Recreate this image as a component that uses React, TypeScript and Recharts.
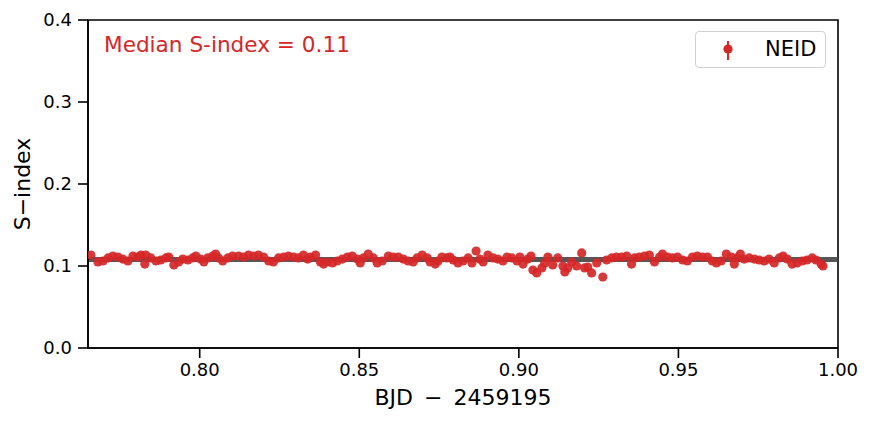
import React from "react";
import {
  ScatterChart,
  Scatter,
  XAxis,
  YAxis,
  ReferenceLine,
  ReferenceArea,
} from "recharts";

const BJD = [
  0.7659, 0.7681, 0.7697, 0.7713, 0.7728, 0.7744, 0.7759, 0.7775, 0.7791, 0.7806,
  0.7816, 0.7828, 0.7831, 0.7847, 0.7863, 0.7878, 0.7894, 0.7903, 0.7919, 0.7934,
  0.7947, 0.7963, 0.7978, 0.7988, 0.8003, 0.8013, 0.8025, 0.8041, 0.805, 0.8059,
  0.8072, 0.8088, 0.8103,
  0.8122, 0.8138, 0.8153, 0.8169, 0.8184, 0.82, 0.8216, 0.8231, 0.8247, 0.8263,
  0.8278, 0.8294, 0.8309, 0.8325, 0.8338, 0.8347, 0.8363, 0.8378, 0.8388, 0.84,
  0.8416, 0.8431, 0.8447, 0.8463, 0.8478, 0.8494, 0.8503, 0.8513, 0.8528, 0.8544,
  0.8556, 0.8572,
  0.8591, 0.8606, 0.8622, 0.8638, 0.8653, 0.8669, 0.8681, 0.8697, 0.8713, 0.8722,
  0.8738, 0.8747, 0.8759, 0.8775, 0.8784, 0.8794, 0.8809, 0.8825, 0.8841, 0.8853,
  0.8866, 0.8878, 0.8888, 0.8903, 0.8919, 0.8934, 0.895, 0.8963, 0.8978, 0.8994,
  0.9003, 0.9013, 0.9028, 0.9038, 0.9044, 0.9056,
  0.9072, 0.9081, 0.9091, 0.9106, 0.9122, 0.9138, 0.9144, 0.9153, 0.9166, 0.9181,
  0.9197, 0.9206, 0.9216, 0.9228, 0.9244, 0.9263, 0.9275, 0.9291, 0.9306, 0.9322,
  0.9338, 0.9353, 0.9363, 0.9378, 0.9394, 0.9409, 0.9425, 0.9441, 0.945, 0.9466,
  0.9481, 0.9497, 0.9513,
  0.9528, 0.9544, 0.9559, 0.9575, 0.9591, 0.9606, 0.9619, 0.9634, 0.965, 0.9666,
  0.9675, 0.9684, 0.9694, 0.9706, 0.9722, 0.9738, 0.9753, 0.9769, 0.9784, 0.98,
  0.9816, 0.9828, 0.9841, 0.9856, 0.9872, 0.9888, 0.9903, 0.9919, 0.9931, 0.9947,
  0.9953,
];

const SINDEX = [
  0.1134, 0.1049, 0.1061, 0.1098, 0.1122, 0.111, 0.1085, 0.1061, 0.1122, 0.111,
  0.1134, 0.1024, 0.1134, 0.1098, 0.1061, 0.1073, 0.1098, 0.111, 0.1012, 0.1049,
  0.1085, 0.1073, 0.1098, 0.1122, 0.1085, 0.1049, 0.1098, 0.1122, 0.1146, 0.1098,
  0.1061, 0.1098, 0.1122,
  0.1122, 0.111, 0.1134, 0.1122, 0.1134, 0.111, 0.1061, 0.1049, 0.1098, 0.111,
  0.1122, 0.111, 0.1098, 0.1134, 0.1085, 0.111, 0.1134, 0.1049, 0.1024, 0.1049,
  0.1037, 0.1061, 0.1085, 0.111, 0.1122, 0.1085, 0.1037, 0.1098, 0.1146, 0.1098,
  0.1037, 0.1061,
  0.1122, 0.111, 0.111, 0.1085, 0.1061, 0.1049, 0.1098, 0.1134, 0.1098, 0.1049,
  0.1024, 0.1061, 0.111, 0.1098, 0.111, 0.1073, 0.1037, 0.1061, 0.1098, 0.1037,
  0.1183, 0.1085, 0.1049, 0.1134, 0.1098, 0.1085, 0.1061, 0.111, 0.1098, 0.1061,
  0.111, 0.1024, 0.1085, 0.1122, 0.0951, 0.0915,
  0.0976, 0.1037, 0.111, 0.1012, 0.1098, 0.1, 0.0927, 0.0976, 0.1049, 0.1,
  0.1159, 0.0976, 0.0988, 0.0915, 0.1037, 0.0866, 0.1073, 0.1098, 0.111, 0.111,
  0.1122, 0.1024, 0.1098, 0.111, 0.1122, 0.1134, 0.1049, 0.111, 0.1146, 0.111,
  0.1098, 0.111, 0.1073,
  0.1061, 0.111, 0.1122, 0.111, 0.111, 0.1061, 0.1037, 0.1061, 0.1146, 0.111,
  0.1024, 0.1098, 0.1146, 0.1085, 0.1098, 0.1085, 0.1073, 0.1061, 0.1085, 0.1037,
  0.1098, 0.1122, 0.1085, 0.1024, 0.1037, 0.1061, 0.1073, 0.1098, 0.1073, 0.1024,
  0.1,
];

const X_TICKS = [0.8, 0.85, 0.9, 0.95, 1.0];
const Y_TICKS = [0, 0.1, 0.2, 0.3, 0.4];
const X_DOMAIN: [number, number] = [0.765, 1.0];
const Y_DOMAIN: [number, number] = [0, 0.4];
const MEDIAN = 0.108;
const MEDIAN_LABEL = "Median S-index = 0.11";
const SERIES_NAME = "NEID";
const X_LABEL = "BJD\u2002\u2212\u20022459195";
const Y_LABEL = "S\u2212index";

const RED = "#d62728";
const FONT = "'DejaVu Sans', sans-serif";

const data = BJD.map((x, i) => ({ x, y: SINDEX[i] }));

const Dot = (props: any) => (
  <circle cx={props.cx} cy={props.cy} r={4.6} fill={RED} fillOpacity={0.92} />
);

export default function App() {
  return (
    <div
      style={{
        position: "absolute",
        left: 0,
        top: 0,
        width: 872,
        height: 427,
        background: "#fff",
        fontFamily: FONT,
      }}
    >
      <ScatterChart
        width={872}
        height={427}
        margin={{ top: 20, right: 34, left: 8, bottom: 19 }}
      >
        <XAxis
          type="number"
          dataKey="x"
          domain={X_DOMAIN}
          ticks={X_TICKS}
          allowDataOverflow
          height={60}
          tickFormatter={(v: number) => v.toFixed(2)}
          tick={{ fill: "#000", fontSize: 18, fontFamily: FONT }}
          tickSize={10}
          tickMargin={5}
          axisLine={{ stroke: "#000", strokeWidth: 1.6 }}
          tickLine={{ stroke: "#000", strokeWidth: 1.6 }}
          label={{
            value: X_LABEL,
            position: "insideBottom",
            offset: 3,
            fill: "#000",
            fontSize: 22,
            fontFamily: FONT,
          }}
        />
        <YAxis
          type="number"
          dataKey="y"
          domain={Y_DOMAIN}
          ticks={Y_TICKS}
          allowDataOverflow
          width={80}
          tickFormatter={(v: number) => v.toFixed(1)}
          tick={{ fill: "#000", fontSize: 18, fontFamily: FONT }}
          tickSize={10}
          tickMargin={6}
          axisLine={{ stroke: "#000", strokeWidth: 1.6 }}
          tickLine={{ stroke: "#000", strokeWidth: 1.6 }}
          label={{
            value: Y_LABEL,
            angle: -90,
            position: "insideLeft",
            offset: 14,
            fill: "#000",
            fontSize: 22,
            fontFamily: FONT,
            style: { textAnchor: "middle" },
          }}
        />
        <ReferenceLine
          y={MEDIAN}
          stroke="#444"
          strokeOpacity={0.9}
          strokeWidth={5}
        />
        <Scatter
          data={data}
          name={SERIES_NAME}
          isAnimationActive={false}
          shape={Dot}
        />
        <ReferenceArea
          x1={X_DOMAIN[0]}
          x2={X_DOMAIN[1]}
          y1={Y_DOMAIN[0]}
          y2={Y_DOMAIN[1]}
          fill="none"
          fillOpacity={0}
          stroke="#000"
          strokeWidth={1.6}
          ifOverflow="visible"
        />
      </ScatterChart>
      <div
        style={{
          position: "absolute",
          left: 104,
          top: 32,
          color: RED,
          fontSize: 21.6,
          lineHeight: "26px",
          whiteSpace: "nowrap",
        }}
      >
        {MEDIAN_LABEL}
      </div>
      <div
        style={{
          position: "absolute",
          left: 695,
          top: 31,
          width: 131,
          height: 37,
          border: "1px solid #d0d0d0",
          borderRadius: 4,
          background: "rgba(255,255,255,0.8)",
          boxSizing: "border-box",
        }}
      >
        <svg
          width={20}
          height={24}
          style={{ position: "absolute", left: 22, top: 7 }}
        >
          <line x1={10} y1={2} x2={10} y2={21} stroke={RED} strokeWidth={2} />
          <circle cx={10} cy={10} r={4.6} fill={RED} />
        </svg>
        <div
          style={{
            position: "absolute",
            left: 69,
            top: 4,
            fontSize: 21,
            lineHeight: "26px",
            color: "#000",
          }}
        >
          {SERIES_NAME}
        </div>
      </div>
    </div>
  );
}
